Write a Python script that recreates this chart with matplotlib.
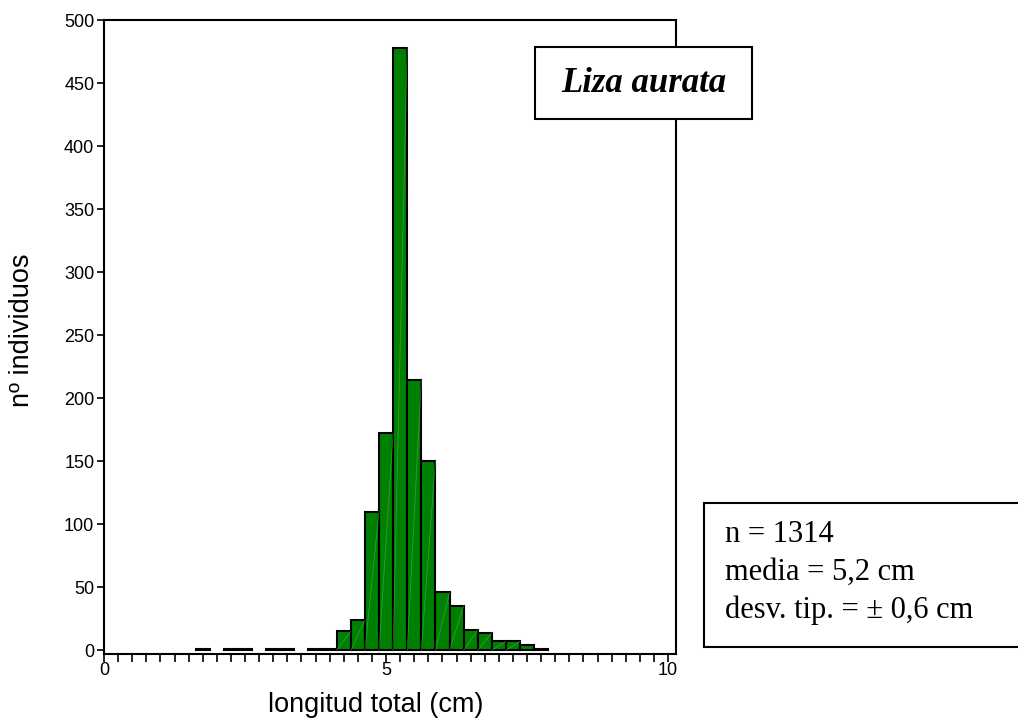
import matplotlib
matplotlib.use("Agg")
import matplotlib.pyplot as plt
from matplotlib.patches import Rectangle
from matplotlib.ticker import MultipleLocator, FixedLocator

# Length classes (cm, bin centres, 0.25 cm wide) and counts
class_centres = [1.75, 2.25, 2.5, 3.0, 3.25, 3.75, 4.0,
                 4.25, 4.5, 4.75, 5.0, 5.25, 5.5, 5.75, 6.0,
                 6.25, 6.5, 6.75, 7.0, 7.25, 7.5, 7.75]
counts = [1, 1, 1, 1, 1, 1, 1,
          15, 24, 110, 172, 478, 214, 150, 46,
          35, 16, 14, 7, 7, 4, 1]
bin_width = 0.25

species = "Liza aurata"
stats_lines = ["n = 1314", "media = 5,2 cm", "desv. tip. = \u00b1 0,6 cm"]
x_label = "longitud total (cm)"
y_label = "n\u00ba individuos"

W, H = 1018, 719
fig = plt.figure(figsize=(W / 100, H / 100), dpi=100)
ax = fig.add_axes([104 / W, 1 - 654 / H, 572 / W, 634 / H])

ax.bar(class_centres, counts, width=bin_width, color="#008000",
       edgecolor="black", linewidth=1.5, zorder=2)

# faint seam across each filled bar
for c, v in zip(class_centres, counts):
    if v >= 5:
        ax.plot([c - bin_width / 2, c + bin_width / 2], [0, v],
                color="#5cb85c", lw=0.6, alpha=0.55, zorder=3)

ax.set_xlim(0, 10.14)
ax.set_ylim(-3, 500)

ax.xaxis.set_major_locator(FixedLocator([0, 5, 10]))
ax.xaxis.set_minor_locator(MultipleLocator(0.25))
ax.yaxis.set_major_locator(MultipleLocator(50))

for s in ax.spines.values():
    s.set_linewidth(1.5)

ax.tick_params(axis="both", which="both", direction="out", width=1.2,
               length=5, labelsize=13, pad=2)
ax.tick_params(axis="x", which="both", length=6, pad=0)

tick_font = "Liberation Sans"
for lab in ax.get_xticklabels() + ax.get_yticklabels():
    lab.set_fontfamily(tick_font)

ax.set_xlabel(x_label, fontsize=19.5, fontfamily=tick_font)
ax.set_ylabel(y_label, fontsize=19.5, fontfamily=tick_font)
ax.xaxis.set_label_coords((376 - 104) / 572, -(705 - 654) / 634)
ax.yaxis.set_label_coords(-(104 - 22) / 572, (654 - 330) / 634)
ax.xaxis.label.set_va("center")
ax.yaxis.label.set_va("center")

# species name box
fig.add_artist(Rectangle((535 / W, 1 - 119 / H), 217 / W, 72 / H,
                         transform=fig.transFigure, facecolor="white",
                         edgecolor="black", linewidth=1.5, zorder=5))
fig.text((535 + 217 / 2) / W, 1 - 84 / H, species, ha="center", va="center",
         fontsize=25, fontstyle="italic", fontweight="bold",
         fontfamily="Liberation Serif", zorder=6)

# summary statistics box
fig.add_artist(Rectangle((704 / W, 1 - 647 / H), 330 / W, 144 / H,
                         transform=fig.transFigure, facecolor="white",
                         edgecolor="black", linewidth=1.5, zorder=5,
                         clip_on=False))
for i, line in enumerate(stats_lines):
    fig.text(725 / W, 1 - (542 + 38 * i) / H, line, ha="left",
             va="baseline", fontsize=22, fontfamily="Liberation Serif",
             zorder=6)

fig.savefig("out.png", dpi=100)
